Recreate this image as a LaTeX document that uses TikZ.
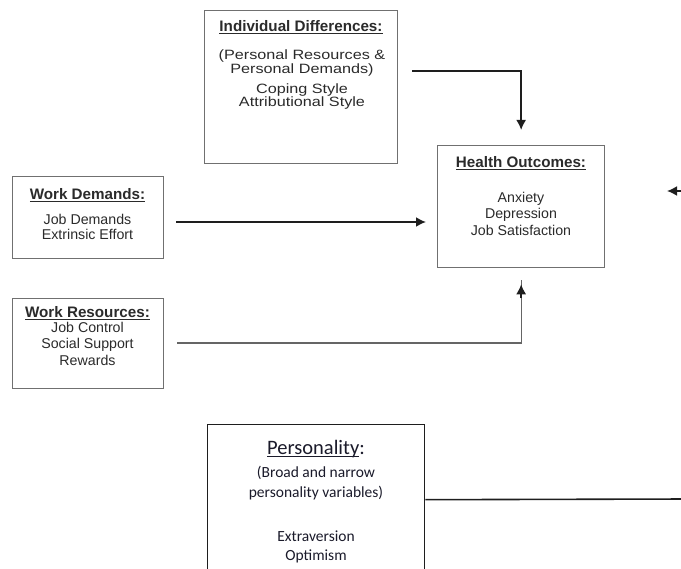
\documentclass[tikz,border=0pt]{standalone}
\usepackage{fontspec}
\setmainfont{Liberation Sans}
\newfontfamily\widefont[FakeStretch=1.2]{Liberation Sans}
\newfontfamily\calib{Carlito}
\usetikzlibrary{arrows.meta}
\definecolor{boxgray}{HTML}{707070}
\definecolor{txt}{HTML}{2A2A2A}
\definecolor{arrblack}{HTML}{1E1E1E}
\definecolor{persc}{HTML}{1A1A2A}
\newcommand{\myul}[1]{\setbox0\hbox{#1}\rlap{\rule[-2.4pt]{\wd0}{1.3pt}}\box0}
\begin{document}
\begin{tikzpicture}[x=1pt,y=-1pt,
  box/.style={draw=boxgray,line width=1.3pt,anchor=north west,inner sep=0},
  pbox/.style={draw=arrblack,line width=1.4pt,anchor=north west,inner sep=0},
  ttl/.style={anchor=base,inner sep=0,text=txt,font=\bfseries\fontsize{15.2}{17}\selectfont},
  bdy/.style={anchor=base,inner sep=0,text=txt,font=\fontsize{14.2}{16}\selectfont},
  wbdy/.style={anchor=base,inner sep=0,text=txt,font=\widefont\fontsize{13.5}{15}\selectfont},
  pttl/.style={anchor=base,inner sep=0,text=persc,font=\calib\fontsize{20.5}{22}\selectfont},
  pbdy/.style={anchor=base,inner sep=0,text=persc,font=\calib\fontsize{15.5}{17}\selectfont},
  arr/.style={draw=arrblack,line width=1.8pt,-{Latex[length=10pt,width=10pt]}},
  gline/.style={draw=boxgray!90!black,line width=1.3pt}]
\clip (0,0) rectangle (681,569);
% boxes
\node[box,minimum width=193pt,minimum height=153pt] (ind) at (204,10) {};
\node[box,minimum width=167pt,minimum height=122pt] (health) at (437,145) {};
\node[box,minimum width=151pt,minimum height=82pt] (wd) at (12,176) {};
\node[box,minimum width=151pt,minimum height=90pt] (wr) at (12,298) {};
\node[pbox,minimum width=217pt,minimum height=150pt] (pers) at (207,424) {};
% individual differences text
\node[ttl] (indt) at (301,32) {\myul{Individual Differences:}};
\node[wbdy] (ind1) at (302,60) {(Personal Resources \&};
\node[wbdy] (ind2) at (302,73.5) {Personal Demands)};
\node[wbdy] (ind3) at (302,94) {Coping Style};
\node[wbdy] (ind4) at (302,107) {Attributional Style};
% health outcomes text
\node[ttl] (healtht) at (521,168) {\myul{Health Outcomes:}};
\node[bdy] (h1) at (521,203) {Anxiety};
\node[bdy] (h2) at (521,219) {Depression};
\node[bdy] (h3) at (521,236) {Job Satisfaction};
% work demands text
\node[ttl] (wdt) at (87.5,200) {\myul{Work Demands:}};
\node[bdy] (wd1) at (87.5,225) {Job Demands};
\node[bdy] (wd2) at (87.5,240) {Extrinsic Effort};
% work resources text
\node[ttl] (wrt) at (87.5,318) {\myul{Work Resources:}};
\node[bdy] (wr1) at (87.5,333) {Job Control};
\node[bdy] (wr2) at (87.5,349) {Social Support};
\node[bdy] (wr3) at (87.5,366) {Rewards};
% personality text
\node[pttl] (perst) at (316,455) {\myul{Personality}:};
\node[pbdy] (p1) at (316,478) {(Broad and narrow};
\node[pbdy] (p2) at (316,498) {personality variables)};
\node[pbdy] (p3) at (316,542) {Extraversion};
\node[pbdy] (p4) at (316,561) {Optimism};
% connectors
\coordinate (c1) at (412,71);
\coordinate (c2) at (176,222);
\coordinate (c3) at (177,343);
\coordinate (rin) at (690,191);
\coordinate (rtip) at (667,191);
\coordinate (pout) at (690,499);
\draw[arr,shorten >=15pt] (c1) -| (health.north);
\draw[arr,shorten >=11pt] (c2) -- (c2 -| health.west);
\draw[gline] (c3) -| ([yshift=-12pt]health.south);
\draw[arr,line width=1.4pt,shorten >=16pt] ([yshift=-30pt]health.south) -- (health.south);
\draw[arr] (rin) -- (rtip);
\draw[draw=arrblack,line width=1.6pt] (pers.east) -- (pout);
\end{tikzpicture}
\end{document}
